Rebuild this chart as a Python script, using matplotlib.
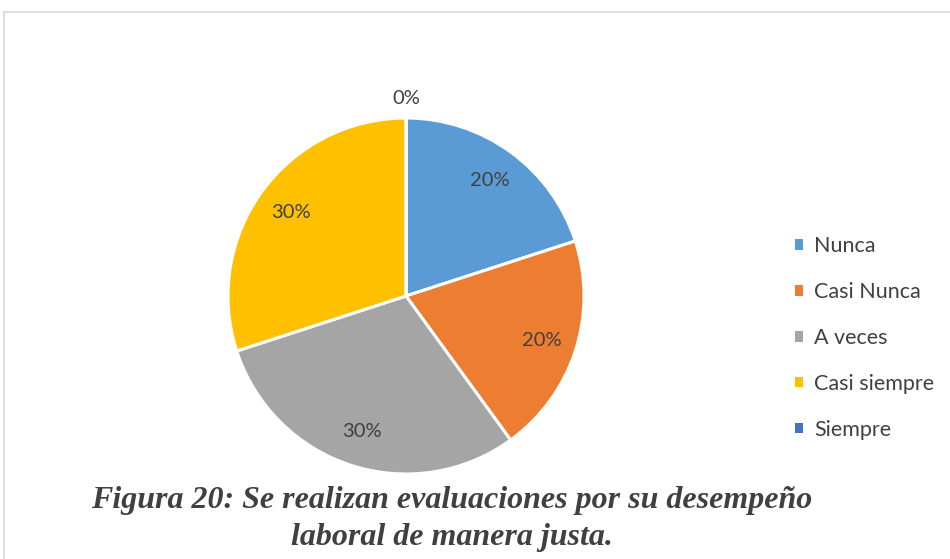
import matplotlib
matplotlib.use("Agg")
import matplotlib.pyplot as plt
from matplotlib.patches import Patch
from matplotlib.lines import Line2D

# data
categories = ["Nunca", "Casi Nunca", "A veces", "Casi siempre", "Siempre"]
values = [20, 20, 30, 30, 0]
colors = ["#5B9BD5", "#ED7D31", "#A5A5A5", "#FFC000", "#4472C4"]
caption = ["Figura 20: Se realizan evaluaciones por su desempeño",
           "laboral de manera justa."]

plt.rcParams['font.family'] = ['Lato', 'DejaVu Sans']
txt_color = "#404040"

fig = plt.figure(figsize=(9.5, 5.59), dpi=100)
W, H = 950, 559

# chart area border (top and left edge visible)
fig.add_artist(Line2D([4 / W, 1], [1 - 12 / H, 1 - 12 / H], transform=fig.transFigure,
                      color="#D9D9D9", lw=1.2))
fig.add_artist(Line2D([4 / W, 4 / W], [0, 1 - 12 / H], transform=fig.transFigure,
                      color="#D9D9D9", lw=1.2))

# pie axes: centre (406,296), radius 178 px
ax = fig.add_axes([228 / W, 1 - 474 / H, 356 / W, 356 / H])
wedges, texts, autotexts = ax.pie(values, colors=colors, startangle=90, counterclock=False,
                                  autopct='%1.0f%%', pctdistance=0.8,
                                  wedgeprops=dict(edgecolor="white", linewidth=2.2),
                                  textprops=dict(color=txt_color, fontsize=14.5))
for v, t in zip(values, autotexts):
    if v == 0:
        t.set_position((0, 1.11))
ax.set_xlim(-1, 1)
ax.set_ylim(-1, 1)
ax.set_aspect('equal')

handles = [Patch(facecolor=c, edgecolor='none') for c in colors]
fig.legend(handles, categories, loc='upper left', bbox_to_anchor=(776 / W, 1 - 217 / H),
           frameon=False, fontsize=15.5, handlelength=0.37, handleheight=0.37,
           handletextpad=0.5, labelspacing=1.2, labelcolor=txt_color)

for i, line in enumerate(caption):
    fig.text(452 / W, 1 - (508 + 37 * i) / H, line, ha='center', va='baseline',
             family='Liberation Serif', style='italic', weight='bold',
             fontsize=23, color=txt_color)

fig.savefig("out.png", dpi=100)
